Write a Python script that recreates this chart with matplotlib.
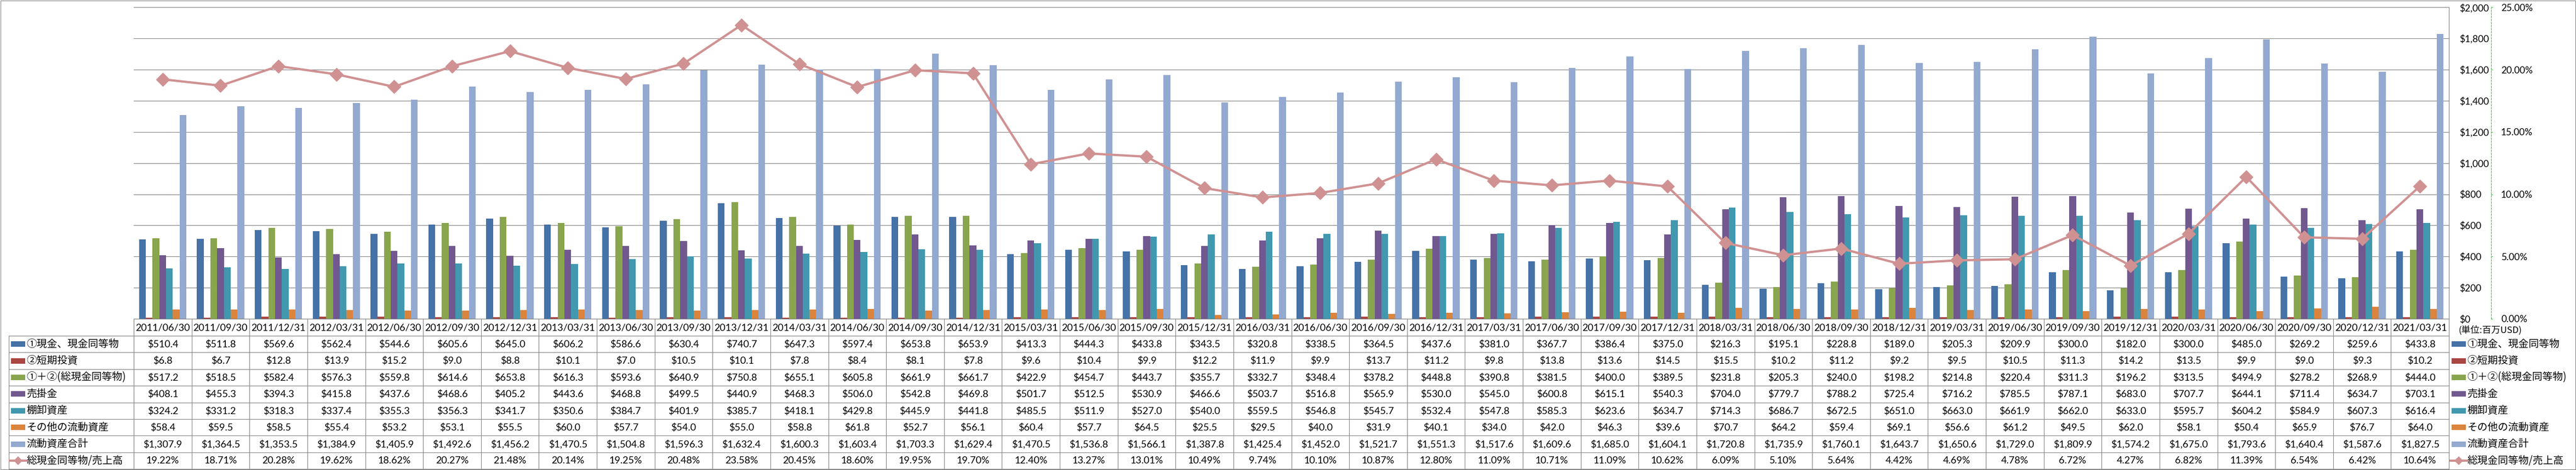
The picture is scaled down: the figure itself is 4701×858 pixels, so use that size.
import matplotlib
matplotlib.use('Agg')
import matplotlib.pyplot as plt
import matplotlib.transforms as mtrans
from matplotlib.patches import Rectangle
from matplotlib.lines import Line2D
from matplotlib.ticker import FuncFormatter
import numpy as np

plt.rcParams['font.family'] = ['Lato', 'Noto Sans CJK JP', 'DejaVu Sans']

dates = ['2011/06/30', '2011/09/30', '2011/12/31', '2012/03/31', '2012/06/30', '2012/09/30',
         '2012/12/31', '2013/03/31', '2013/06/30', '2013/09/30', '2013/12/31', '2014/03/31',
         '2014/06/30', '2014/09/30', '2014/12/31', '2015/03/31', '2015/06/30', '2015/09/30',
         '2015/12/31', '2016/03/31', '2016/06/30', '2016/09/30', '2016/12/31', '2017/03/31',
         '2017/06/30', '2017/09/30', '2017/12/31', '2018/03/31', '2018/06/30', '2018/09/30',
         '2018/12/31', '2019/03/31', '2019/06/30', '2019/09/30', '2019/12/31', '2020/03/31',
         '2020/06/30', '2020/09/30', '2020/12/31', '2021/03/31']

cash = [510.4, 511.8, 569.6, 562.4, 544.6, 605.6, 645.0, 606.2, 586.6, 630.4, 740.7, 647.3, 597.4,
        653.8, 653.9, 413.3, 444.3, 433.8, 343.5, 320.8, 338.5, 364.5, 437.6, 381.0, 367.7, 386.4,
        375.0, 216.3, 195.1, 228.8, 189.0, 205.3, 209.9, 300.0, 182.0, 300.0, 485.0, 269.2, 259.6, 433.8]
short_inv = [6.8, 6.7, 12.8, 13.9, 15.2, 9.0, 8.8, 10.1, 7.0, 10.5, 10.1, 7.8, 8.4, 8.1, 7.8, 9.6,
             10.4, 9.9, 12.2, 11.9, 9.9, 13.7, 11.2, 9.8, 13.8, 13.6, 14.5, 15.5, 10.2, 11.2, 9.2,
             9.5, 10.5, 11.3, 14.2, 13.5, 9.9, 9.0, 9.3, 10.2]
total_cash = [517.2, 518.5, 582.4, 576.3, 559.8, 614.6, 653.8, 616.3, 593.6, 640.9, 750.8, 655.1,
              605.8, 661.9, 661.7, 422.9, 454.7, 443.7, 355.7, 332.7, 348.4, 378.2, 448.8, 390.8,
              381.5, 400.0, 389.5, 231.8, 205.3, 240.0, 198.2, 214.8, 220.4, 311.3, 196.2, 313.5,
              494.9, 278.2, 268.9, 444.0]
receivables = [408.1, 455.3, 394.3, 415.8, 437.6, 468.6, 405.2, 443.6, 468.8, 499.5, 440.9, 468.3,
               506.0, 542.8, 469.8, 501.7, 512.5, 530.9, 466.6, 503.7, 516.8, 565.9, 530.0, 545.0,
               600.8, 615.1, 540.3, 704.0, 779.7, 788.2, 725.4, 716.2, 785.5, 787.1, 683.0, 707.7,
               644.1, 711.4, 634.7, 703.1]
inventory = [324.2, 331.2, 318.3, 337.4, 355.3, 356.3, 341.7, 350.6, 384.7, 401.9, 385.7, 418.1,
             429.8, 445.9, 441.8, 485.5, 511.9, 527.0, 540.0, 559.5, 546.8, 545.7, 532.4, 547.8,
             585.3, 623.6, 634.7, 714.3, 686.7, 672.5, 651.0, 663.0, 661.9, 662.0, 633.0, 595.7,
             604.2, 584.9, 607.3, 616.4]
other_ca = [58.4, 59.5, 58.5, 55.4, 53.2, 53.1, 55.5, 60.0, 57.7, 54.0, 55.0, 58.8, 61.8, 52.7,
            56.1, 60.4, 57.7, 64.5, 25.5, 29.5, 40.0, 31.9, 40.1, 34.0, 42.0, 46.3, 39.6, 70.7,
            64.2, 59.4, 69.1, 56.6, 61.2, 49.5, 62.0, 58.1, 50.4, 65.9, 76.7, 64.0]
total_ca = [1307.9, 1364.5, 1353.5, 1384.9, 1405.9, 1492.6, 1456.2, 1470.5, 1504.8, 1596.3, 1632.4,
            1600.3, 1603.4, 1703.3, 1629.4, 1470.5, 1536.8, 1566.1, 1387.8, 1425.4, 1452.0, 1521.7,
            1551.3, 1517.6, 1609.6, 1685.0, 1604.1, 1720.8, 1735.9, 1760.1, 1643.7, 1650.6, 1729.0,
            1809.9, 1574.2, 1675.0, 1793.6, 1640.4, 1587.6, 1827.5]
ratio = [19.22, 18.71, 20.28, 19.62, 18.62, 20.27, 21.48, 20.14, 19.25, 20.48, 23.58, 20.45, 18.60,
         19.95, 19.70, 12.40, 13.27, 13.01, 10.49, 9.74, 10.10, 10.87, 12.80, 11.09, 10.71, 11.09,
         10.62, 6.09, 5.10, 5.64, 4.42, 4.69, 4.78, 6.72, 4.27, 6.82, 11.39, 6.54, 6.42, 10.64]

series_names = ['①現金、現金同等物', '②短期投資', '①＋②(総現金同等物)', '売掛金', '棚卸資産',
                'その他の流動資産', '流動資産合計']
ratio_name = '総現金同等物/売上高'
unit_label = '(単位:百万USD)'

bar_series = [cash, short_inv, total_cash, receivables, inventory, other_ca, total_ca]
bar_colors = ['#4572A7', '#AA4643', '#89A54E', '#71588F', '#4198AF', '#DB843D', '#93A9CF']
line_color = '#D09192'
grid_color = '#868686'

W, H, DPI = 4701, 858, 100
fig = plt.figure(figsize=(W / DPI, H / DPI), dpi=DPI)

# pixel-space overlay
pix = fig.add_axes([0, 0, 1, 1], zorder=0)
pix.set_xlim(0, W)
pix.set_ylim(H, 0)
pix.axis('off')
pix.patch.set_alpha(0)

L, R, T, B = 244, 4469, 13.3, 582
ax = fig.add_axes([L / W, 1 - B / H, (R - L) / W, (B - T) / H], zorder=1)
ax.patch.set_alpha(0)

n = len(dates)
x = np.arange(n)
bw = 0.1165
for k, (vals, col) in enumerate(zip(bar_series, bar_colors)):
    ax.bar(x + (k - 3) * bw, vals, width=bw, color=col, linewidth=0, zorder=2)

ax.set_xlim(-0.5, n - 0.5)
ax.set_ylim(0, 2000)
ax.set_yticks(np.arange(0, 2001, 200))
ax.yaxis.set_major_formatter(FuncFormatter(lambda v, p: f"${v:,.0f}"))
ax.set_xticks([])
ax.grid(axis='y', color=grid_color, lw=0.8)
ax.set_axisbelow(True)

ax2 = ax.twinx()
ax2.set_zorder(2)
ax2.patch.set_alpha(0)

# primary $ axis on the right side (after twinx, which resets it to the left)
ax.yaxis.tick_right()
ax.yaxis.set_label_position('right')
ax.tick_params(axis='y', which='both', left=False, right=True, labelleft=False, labelright=True,
               length=0, pad=13.5, labelsize=12.5)
for s in ['left', 'top']:
    ax.spines[s].set_visible(False)
for s in ['right', 'bottom']:
    ax.spines[s].set_visible(True)
    ax.spines[s].set_color(grid_color)
    ax.spines[s].set_linewidth(0.8)

ax2.set_ylim(0, 25)
ax2.set_yticks(np.arange(0, 26, 5))
ax2.yaxis.set_major_formatter(FuncFormatter(lambda v, p: f"{v:.2f}%"))
ax2.spines['right'].set_position(('axes', (4546 - L) / (R - L)))
ax2.spines['right'].set_color('#22DD22')
ax2.spines['right'].set_linestyle((0, (3, 2)))
ax2.spines['right'].set_linewidth(0.8)
for s in ['left', 'top', 'bottom']:
    ax2.spines[s].set_visible(False)
ax2.tick_params(axis='y', direction='out', length=2.5, color='#22DD22', pad=10.5, labelsize=12.5)
ax2.plot(x, ratio, color=line_color, lw=3, marker='D', ms=12, mec=line_color, mew=1,
         solid_joinstyle='round', zorder=3)

# ---- data table ----
bt = mtrans.blended_transform_factory(ax.transData, pix.transData)
row_top = 613.0
rh = 30.4
hdr_top = B
tbl_left = 16
tcol = '#878787'

for i, d in enumerate(dates):
    pix.text(i, (hdr_top + row_top) / 2 + 0.5, d, transform=bt, ha='center', va='center', fontsize=13)

rows_vals = [[f"${v:,.1f}" for v in s] for s in bar_series] + [[f"{v:.2f}%" for v in ratio]]
for r, vals in enumerate(rows_vals):
    cy = row_top + (r + 0.5) * rh
    for i, t in enumerate(vals):
        pix.text(i, cy + 0.5, t, transform=bt, ha='center', va='center', fontsize=13)

# grid lines of table
for k in range(len(rows_vals) + 1):
    y = row_top + k * rh
    pix.plot([tbl_left, R], [y, y], color=tcol, lw=0.8)
for i in range(n + 1):
    pix.plot([i - 0.5, i - 0.5], [hdr_top, row_top + len(rows_vals) * rh], color=tcol, lw=0.8,
             transform=bt)
pix.plot([tbl_left, tbl_left], [row_top, row_top + len(rows_vals) * rh], color=tcol, lw=0.8)

# legend keys (table left and right legend)
labels_all = series_names + [ratio_name]
for kx, tx in [(20, 48.5), (4474, 4502)]:
    for r, lab in enumerate(labels_all):
        cy = row_top + (r + 0.5) * rh
        if r < len(series_names):
            pix.add_patch(Rectangle((kx, cy - 5), 26, 10, color=bar_colors[r], lw=0))
        else:
            pix.add_line(Line2D([kx - 2, kx + 28], [cy, cy], color=line_color, lw=3))
            pix.add_line(Line2D([kx + 13], [cy], color=line_color, marker='D', ms=8, mew=0))
        pix.text(tx, cy, lab, ha='left', va='center', fontsize=13.5,
                 family=['Noto Sans CJK JP', 'DejaVu Sans'])

pix.text(4487, 603, unit_label, ha='left', va='center', fontsize=12,
         family=['Noto Sans CJK JP', 'DejaVu Sans'])

# outer chart border
pix.add_patch(Rectangle((0.5, 1), W - 1.5, H - 2, fill=False, edgecolor=grid_color, lw=0.8))

fig.savefig('out.png', dpi=DPI)
